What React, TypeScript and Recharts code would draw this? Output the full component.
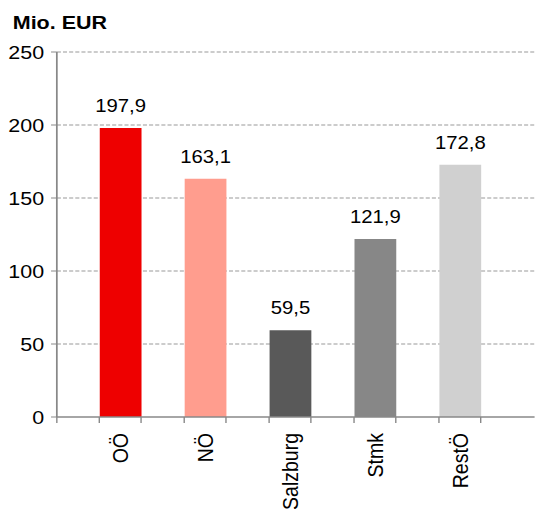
import React from "react";
import { BarChart, Bar, XAxis, YAxis, CartesianGrid, LabelList, Cell } from "recharts";

const categories = ["OÖ", "NÖ", "Salzburg", "Stmk", "RestÖ"];
const values = [197.9, 163.1, 59.5, 121.9, 172.8];
const colors = ["#EE0000", "#FF9D8E", "#595959", "#878787", "#D0D0D0"];
const yTicks = [0, 50, 100, 150, 200, 250];
const unitLabel = "Mio. EUR";

const data = categories.map((name, i) => ({ name, value: values[i] }));

const SX = 1.16;
const W = 461;
const H = 513;
const BAR = 36;
const FONT = "Liberation Sans, Arial, sans-serif";

const XTick = (props: any) => {
  const { x, y, payload, index } = props;
  const half = BAR / 2;
  return (
    <g>
      <line x1={x - half} y1={y} x2={x - half} y2={y + 6} stroke="#888" strokeWidth={1.2} />
      <line x1={x + half} y1={y} x2={x + half} y2={y + 6} stroke="#888" strokeWidth={1.2} />
      {index === 0 ? (
        <line x1={49} y1={y} x2={49} y2={y + 6} stroke="#888" strokeWidth={1.2} />
      ) : null}
      <text
        x={x}
        y={y + 16}
        transform={`rotate(-90, ${x}, ${y + 16})`}
        textAnchor="end"
        dy="0.36em"
        fontSize={19.5}
        fontFamily={FONT}
        fill="#000"
      >
        {payload.value}
      </text>
    </g>
  );
};

const fmt = (v: any) => String(v).replace(".", ",");

export default function App() {
  return (
    <div style={{ position: "absolute", left: 0, top: 0, width: 535, height: H, overflow: "hidden", background: "#fff" }}>
      <div style={{ width: W, height: H, transform: `scaleX(${SX})`, transformOrigin: "0 0", position: "relative" }}>
        <div
          style={{
            position: "absolute",
            left: 11,
            top: 13,
            fontFamily: FONT,
            fontWeight: "bold",
            fontSize: 18.5,
            lineHeight: "20px",
            color: "#000",
          }}
        >
          {unitLabel}
        </div>
        <BarChart width={W} height={H} data={data} margin={{ top: 52, right: 0, left: 0, bottom: 0 }} barSize={BAR}>
          <CartesianGrid vertical={false} stroke="#999" strokeDasharray="3.5 1.8" horizontalValues={[50, 100, 150, 200, 250]} />
          <XAxis
            dataKey="name"
            height={96}
            interval={0}
            padding={{ left: 18, right: 28 }}
            tickLine={false}
            tickSize={0}
            tickMargin={0}
            axisLine={{ stroke: "#888", strokeWidth: 1.5 }}
            tick={<XTick />}
          />
          <YAxis
            width={49}
            domain={[0, 250]}
            ticks={yTicks}
            interval={0}
            tickSize={5}
            tickMargin={6}
            axisLine={{ stroke: "#888", strokeWidth: 1.5 }}
            tickLine={{ stroke: "#888" }}
            tick={{ fontSize: 18.5, fill: "#000", fontFamily: FONT }}
          />
          <Bar dataKey="value" isAnimationActive={false}>
            {data.map((d, i) => (
              <Cell key={d.name} fill={colors[i]} />
            ))}
            <LabelList
              dataKey="value"
              position="top"
              offset={16}
              formatter={fmt}
              style={{ fontSize: 17.5, fill: "#000", fontFamily: FONT }}
            />
          </Bar>
        </BarChart>
      </div>
    </div>
  );
}
